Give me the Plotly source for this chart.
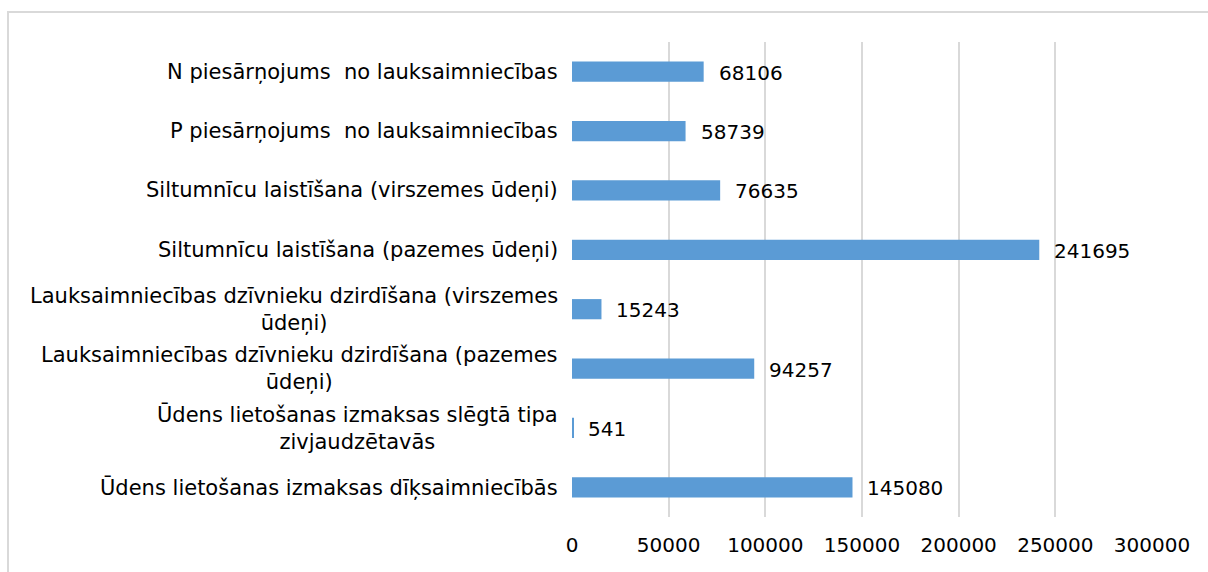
import plotly.graph_objects as go

# Categories, top to bottom, with the wrapped versions used as axis labels
categories = [
    "N piesārņojums  no lauksaimniecības",
    "P piesārņojums  no lauksaimniecības",
    "Siltumnīcu laistīšana (virszemes ūdeņi)",
    "Siltumnīcu laistīšana (pazemes ūdeņi)",
    "Lauksaimniecības dzīvnieku dzirdīšana (virszemes ūdeņi)",
    "Lauksaimniecības dzīvnieku dzirdīšana (pazemes ūdeņi)",
    "Ūdens lietošanas izmaksas slēgtā tipa zivjaudzētavās",
    "Ūdens lietošanas izmaksas dīķsaimniecībās",
]
category_labels = [
    "N piesārņojums\u00a0 no lauksaimniecības",
    "P piesārņojums\u00a0 no lauksaimniecības",
    "Siltumnīcu laistīšana (virszemes ūdeņi)",
    "Siltumnīcu laistīšana (pazemes ūdeņi)",
    "Lauksaimniecības dzīvnieku dzirdīšana (virszemes<br>ūdeņi)",
    "Lauksaimniecības dzīvnieku dzirdīšana (pazemes<br>ūdeņi)",
    "Ūdens lietošanas izmaksas slēgtā tipa<br>zivjaudzētavās",
    "Ūdens lietošanas izmaksas dīķsaimniecībās",
]
values = [68106, 58739, 76635, 241695, 15243, 94257, 541, 145080]
x_ticks = [0, 50000, 100000, 150000, 200000, 250000, 300000]

FONT = "DejaVu Sans, Tahoma, sans-serif"
W, H = 1208, 572
ML, MR, MT, MB = 572, 56, 42, 55

fig = go.Figure(
    go.Bar(
        x=values,
        y=categories,
        orientation="h",
        marker=dict(color="#5B9BD5", line=dict(width=0)),
        hoverinfo="x+y",
    )
)

# Category labels, centred line by line, right-aligned against the plot
for cat, lab in zip(categories, category_labels):
    fig.add_annotation(
        x=0, xref="paper", y=cat, yref="y",
        text=lab, showarrow=False,
        xanchor="right", yanchor="middle", align="center",
        xshift=-12,
        font=dict(family=FONT, size=21, color="#000000"),
    )

# Value labels just past each bar end
for cat, v in zip(categories, values):
    fig.add_annotation(
        x=v, xref="x", y=cat, yref="y",
        text=str(v), showarrow=False,
        xanchor="left", yanchor="middle",
        xshift=13, yshift=-1,
        font=dict(family=FONT, size=20, color="#000000"),
    )

# Light frame around the chart area
pw, ph = W - ML - MR, H - MT - MB
def px_to_paper_x(px):
    return (px - ML) / pw
def px_to_paper_y(py):
    return (H - MB - py) / ph

fig.add_shape(
    type="rect", xref="paper", yref="paper",
    x0=px_to_paper_x(8), x1=px_to_paper_x(W + 20),
    y0=px_to_paper_y(H + 20), y1=px_to_paper_y(12),
    line=dict(color="#D9D9D9", width=2), fillcolor="rgba(0,0,0,0)",
    layer="below",
)

fig.update_layout(
    width=W, height=H, autosize=False,
    margin=dict(l=ML, r=MR, t=MT, b=MB, pad=0),
    paper_bgcolor="white", plot_bgcolor="white",
    bargap=0.66,
    showlegend=False,
    font=dict(family=FONT, size=20, color="#000000"),
)
fig.update_xaxes(
    range=[0, 300000], tickvals=x_ticks, ticktext=[str(t) for t in x_ticks],
    showgrid=True, gridcolor="#D9D9D9", gridwidth=2,
    zeroline=False, showline=False, ticks="",
    ticklabelstandoff=14,
    tickfont=dict(family=FONT, size=20, color="#000000"),
)
fig.update_yaxes(
    autorange="reversed", showticklabels=False, showgrid=False,
    zeroline=False, showline=False, ticks="",
)

fig.write_html("out.html")
